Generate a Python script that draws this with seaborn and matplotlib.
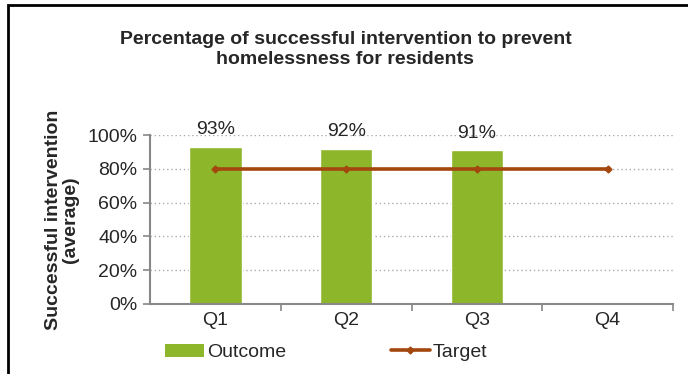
import numpy as np
import pandas as pd
import matplotlib
matplotlib.use("Agg")
import matplotlib.pyplot as plt
import seaborn as sns
from matplotlib.patches import Patch, Rectangle
from matplotlib.lines import Line2D
from matplotlib.ticker import PercentFormatter

# --- datos ---
quarters = ["Q1", "Q2", "Q3", "Q4"]
outcome = [93, 92, 91, np.nan]
target = [80, 80, 80, 80]

green = "#8DB62A"
brown = "#A3470F"

sns.set_style("white")
plt.rcParams["font.family"] = ["Liberation Sans", "DejaVu Sans"]

df = pd.DataFrame({"quarter": quarters, "outcome": outcome, "target": target})

fig = plt.figure(figsize=(6.88, 3.74), dpi=100)
ax = fig.add_axes([150 / 688, 1 - 304 / 374, (673 - 150) / 688, (304 - 135) / 374])

sns.barplot(data=df, x="quarter", y="outcome", color=green, width=0.4,
            saturation=1, ax=ax, zorder=2)
ax.plot(range(len(quarters)), df["target"], color=brown, lw=2.6,
        marker="D", markersize=3.5, zorder=3)

# etiquetas de valor
for i, v in enumerate(outcome):
    if not np.isnan(v):
        ax.annotate(f"{v:.0f}%", (i, v), xytext=(0, 6), textcoords="offset points",
                    ha="center", va="bottom", fontsize=14)

ax.set_ylim(0, 100)
ax.set_xlim(-0.5, 3.5)
ax.set_yticks(range(0, 101, 20))
ax.yaxis.set_major_formatter(PercentFormatter(decimals=0))
for y in range(20, 101, 20):
    ax.axhline(y, color="#AAAAAA", lw=1, ls=(0, (1, 2)), zorder=1)

ax.set_xticks([0.5, 1.5, 2.5, 3.5], minor=True)
ax.tick_params(axis="x", which="major", length=0, labelsize=14, pad=6)
ax.tick_params(axis="x", which="minor", bottom=True, length=5, width=1.2,
               color="#888888", direction="out")
ax.tick_params(axis="y", length=5, width=1.2, color="#888888", direction="out",
               labelsize=14, left=True, pad=4)
sns.despine(ax=ax)
for s in ("left", "bottom"):
    ax.spines[s].set_color("#888888")
    ax.spines[s].set_linewidth(1.5)

ax.set_xlabel("")
ax.set_ylabel("Successful intervention\n(average)", fontsize=14, fontweight="bold",
              linespacing=1.0, labelpad=6)

fig.text(0.502, 0.916, "Percentage of successful intervention to prevent\nhomelessness for residents",
         ha="center", va="top", fontsize=14, fontweight="bold", linespacing=1.2)

handles = [Patch(facecolor=green, edgecolor="none"),
           Line2D([0], [0], color=brown, lw=2.6, marker="D", markersize=3.5)]
fig.legend(handles, ["Outcome", "Target"], loc="center", bbox_to_anchor=(0.474, 0.058),
           ncol=2, frameon=False, fontsize=14, handlelength=2.0, handletextpad=0.15,
           columnspacing=5.4)

# marco
fig.patches.append(Rectangle((8 / 688, -0.1), 1.2, 1.1 - 5 / 374,
                             transform=fig.transFigure, fill=False,
                             edgecolor="black", lw=2))

fig.savefig("out.png", dpi=100)
